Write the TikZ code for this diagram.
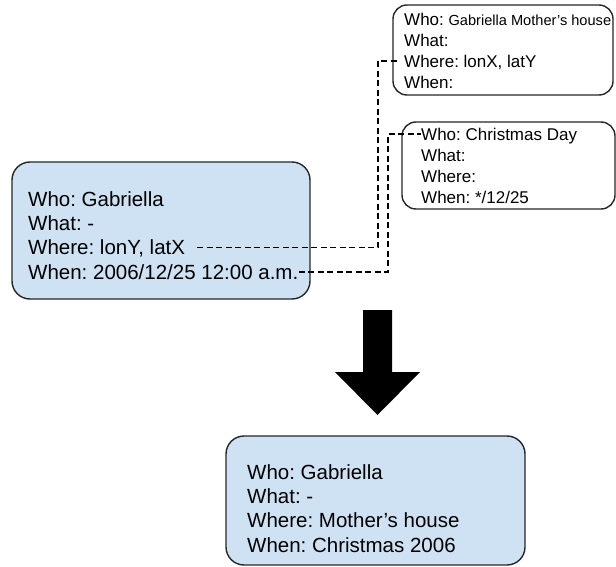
\documentclass[tikz,border=0pt]{standalone}
\usepackage{fontspec}
\setmainfont{Liberation Sans}
\frenchspacing
\usetikzlibrary{positioning}
\definecolor{paleblue}{HTML}{CFE2F3}
\tikzstyle{record}=[rectangle, draw=black!85, line width=1.4pt, rounded corners=18pt, inner sep=0pt]
\tikzstyle{entry}=[anchor=base west, inner sep=0pt, text height=19.5pt, text depth=4.5pt,
        font=\fontsize{20.5}{24}\selectfont]
\tikzstyle{smallentry}=[entry, text height=17.25pt, text depth=3.25pt,
        font=\fontsize{17}{20.5}\selectfont]
\tikzstyle{link}=[draw=black, line width=1.6pt, dash pattern=on 6pt off 3.5pt]

\begin{document}
\begin{tikzpicture}[x=1pt, y=-1pt]
        \useasboundingbox (0,0) rectangle (616,567);
        % the three records and the merged one
        \node (Gab) [record, fill=paleblue, minimum width=298pt, minimum height=137pt] at (161,230.5) {};
        \node (Mom) [record, fill=white, rounded corners=14pt, minimum width=220pt, minimum height=90pt] at (503,50) {};
        \node (Xmas) [record, fill=white, rounded corners=14pt, minimum width=213pt, minimum height=87pt] at (508.5,165.5) {};
        \node (Merged) [record, fill=paleblue, minimum width=299pt, minimum height=129pt] at (375.5,500.5) {};

        \node (GabWho) [entry] at (28,206) {Who: Gabriella};
        \node (GabWhat) [entry, below=0pt of GabWho.south west, anchor=north west] {What: -};
        \node (GabWhere) [entry, below=0pt of GabWhat.south west, anchor=north west] {Where: lonY, latX};
        \node (GabWhen) [entry, below=0pt of GabWhere.south west, anchor=north west] {When: 2006/12/25 12:00 a.m.};

        \node (MomWho) [smallentry] at (404,26) {Who: {\fontsize{14.6}{17}\selectfont Gabriella Mother’s house}};
        \node (MomWhat) [smallentry, below=0pt of MomWho.south west, anchor=north west] {What:};
        \node (MomWhere) [smallentry, below=0pt of MomWhat.south west, anchor=north west] {Where: lonX, latY};
        \node (MomWhen) [smallentry, below=0pt of MomWhere.south west, anchor=north west] {When:};

        \node (XmasWho) [smallentry] at (421,141) {Who: Christmas Day};
        \node (XmasWhat) [smallentry, below=0pt of XmasWho.south west, anchor=north west] {What:};
        \node (XmasWhere) [smallentry, below=0pt of XmasWhat.south west, anchor=north west] {Where:};
        \node (XmasWhen) [smallentry, below=0pt of XmasWhere.south west, anchor=north west] {When: */12/25};

        \node (MergedWho) [entry] at (247,479) {Who: Gabriella};
        \node (MergedWhat) [entry, below=0pt of MergedWho.south west, anchor=north west] {What: -};
        \node (MergedWhere) [entry, below=0pt of MergedWhat.south west, anchor=north west] {Where: Mother’s house};
        \node (MergedWhen) [entry, below=0pt of MergedWhere.south west, anchor=north west] {When: Christmas 2006};

        % dashed links
        \coordinate (turnA) at (378,0);
        \coordinate (turnB) at (388,0);
        \draw[link, shorten <=12pt, shorten >=7pt] (GabWhere.east) -- (GabWhere.east -| turnA)
                -- (turnA |- MomWhere.west) -- (MomWhere.west);
        \draw[link] (GabWhen.east) -- (GabWhen.east -| turnB)
                -- (turnB |- XmasWho.west) -- (XmasWho.west);

        % big arrow
        \fill[black] (363,310) -- (392,310) -- (392,372) -- (420,372) -- (377.5,415)
                -- (335,372) -- (363,372) -- cycle;
\end{tikzpicture}
\end{document}
